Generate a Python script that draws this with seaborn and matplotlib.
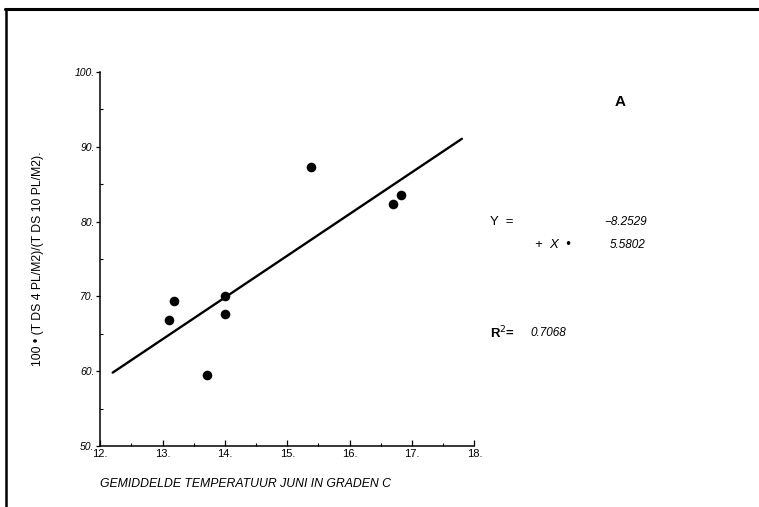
import numpy as np
import pandas as pd
import matplotlib
matplotlib.use("Agg")
import matplotlib.pyplot as plt
from matplotlib.lines import Line2D
from matplotlib.ticker import MultipleLocator
import seaborn as sns

# data
temp_june = [13.10, 13.18, 13.71, 14.00, 14.00, 15.38, 16.70, 16.82]
ratio_pct = [66.8, 69.4, 59.5, 70.0, 67.6, 87.3, 82.3, 83.5]

# fitted line as printed on the chart
intercept = -8.2529
slope = 5.5802
r_squared = 0.7068
line_x = [12.2, 17.8]

x_ticks = [12, 13, 14, 15, 16, 17, 18]
y_ticks = [50, 60, 70, 80, 90, 100]

df = pd.DataFrame({"temp": temp_june, "ratio": ratio_pct})
fit = pd.DataFrame({"temp": line_x, "ratio": [intercept + slope * v for v in line_x]})

sns.set_style("ticks", {"text.color": "black", "axes.labelcolor": "black",
                        "xtick.color": "black", "ytick.color": "black",
                        "axes.edgecolor": "black"})
plt.rcParams["font.family"] = ["Liberation Sans", "DejaVu Sans"]

fig = plt.figure(figsize=(7.59, 5.07), dpi=100)
ax = fig.add_axes([0.132, 0.12, 0.493, 0.738])

sns.lineplot(data=fit, x="temp", y="ratio", color="black", linewidth=1.7, ax=ax)
sns.scatterplot(data=df, x="temp", y="ratio", color="black", s=48,
                edgecolor="black", linewidth=0, zorder=3, ax=ax)

ax.set_xlim(12, 18)
ax.set_ylim(50, 100)
ax.set_xticks(x_ticks)
ax.set_yticks(y_ticks)
ax.set_xticklabels([f"{t}." for t in x_ticks], fontsize=8)
ax.set_yticklabels([f"{t}." for t in y_ticks], fontsize=7.5, fontstyle="italic")
ax.xaxis.set_minor_locator(MultipleLocator(0.5))
ax.yaxis.set_minor_locator(MultipleLocator(5))
ax.tick_params(axis="x", which="major", direction="in", length=4, width=0.9, pad=2)
ax.tick_params(axis="x", which="minor", direction="in", length=2, width=0.8)
ax.tick_params(axis="y", which="major", direction="out", length=3, width=0.9, pad=1)
ax.tick_params(axis="y", which="minor", direction="in", length=2, width=0.8)
sns.despine(ax=ax)
for side in ["left", "bottom"]:
    ax.spines[side].set_linewidth(1.1)

ax.set_xlabel("GEMIDDELDE TEMPERATUUR JUNI IN GRADEN C", fontsize=8.8,
              fontstyle="italic", labelpad=14, loc="left")
ax.set_ylabel("100 \u2022 (T DS 4 PL/M2)/(T DS 10 PL/M2).", fontsize=8.8, labelpad=22)

# annotations to the right of the plot
fig.text(620 / 759, 1 - 102 / 507, "A", fontsize=11, fontweight="bold",
         ha="center", va="center")
fig.text(490 / 759, 1 - 222 / 507, "Y  =", fontsize=9.5, va="center")
fig.text(647 / 759, 1 - 222 / 507, "\u22128.2529", fontsize=8.5, fontstyle="italic",
         ha="right", va="center")
fig.text(535 / 759, 1 - 245 / 507, "+  X  \u2022", fontsize=9.5, fontstyle="italic",
         va="center")
fig.text(645 / 759, 1 - 245 / 507, "5.5802", fontsize=8.5, fontstyle="italic",
         ha="right", va="center")
fig.text(490 / 759, 1 - 333 / 507, "R$^{2}$=", fontsize=9.5, fontweight="bold",
         va="center")
fig.text(530 / 759, 1 - 333 / 507, f"{r_squared:.4f}", fontsize=8.5, fontstyle="italic",
         va="center")

# page frame from the scan
fig.add_artist(Line2D([5 / 759, 1.0], [1 - 9 / 507, 1 - 9 / 507],
                      transform=fig.transFigure, color="black", linewidth=2.2))
fig.add_artist(Line2D([6 / 759, 6 / 759], [0.0, 1 - 9 / 507],
                      transform=fig.transFigure, color="black", linewidth=1.8))

fig.savefig("out.png", dpi=100, facecolor="white")
